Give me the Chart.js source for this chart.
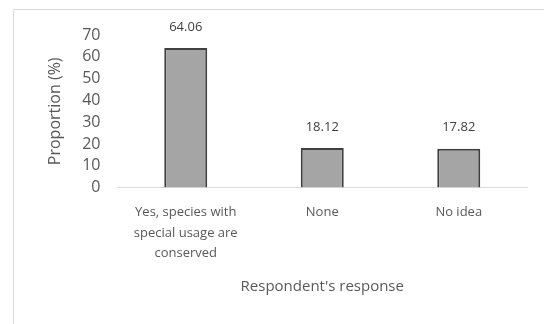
<!DOCTYPE html>
<html>
<head>
<meta charset="utf-8">
<script src="https://cdn.jsdelivr.net/npm/chart.js@4"></script>
<style>
  html, body { margin: 0; padding: 0; background: #fff; }
  #wrap { position: relative; width: 544px; height: 324px; }
  #frame { position: absolute; left: 13px; top: 9px; width: 600px; height: 400px;
           border-left: 1px solid #d9d9d9; border-top: 1px solid #d9d9d9; }
  canvas { position: absolute; left: 0; top: 0; }
</style>
</head>
<body>
<div id="wrap">
  <div id="frame"></div>
  <canvas id="chart" width="544" height="324"></canvas>
</div>
<script>
const categories = [
    ['Yes, species with', 'special usage are', 'conserved'],
    'None',
    'No idea'
]
const proportions = [64.06, 18.12, 17.82]
const yTicks = [0, 10, 20, 30, 40, 50, 60, 70]

const fontName = "'Open Sans', 'Liberation Sans', sans-serif"

// draws the value over each bar
const valueLabels = {
    id: 'valueLabels',
    afterDatasetsDraw(chart) {
        const ctx = chart.ctx
        const meta = chart.getDatasetMeta(0)
        ctx.save()
        ctx.fillStyle = '#404040'
        ctx.font = '13px ' + fontName
        ctx.textAlign = 'center'
        ctx.textBaseline = 'middle'
        meta.data.forEach((bar, i) => {
            ctx.fillText(proportions[i].toFixed(2), bar.x, bar.y - 21)
        })
        ctx.restore()
    }
}

const ctx = document.querySelector('#chart').getContext('2d')

new Chart(ctx, {
    type: 'bar',
    data: {
        labels: categories,
        datasets: [{
            data: proportions,
            backgroundColor: '#a5a5a5',
            borderColor: '#404040',
            borderWidth: 2,
            categoryPercentage: 1,
            barPercentage: 0.315
        }]
    },
    options: {
        responsive: false,
        animation: false,
        layout: { padding: { left: 46, right: 17, top: 35, bottom: 28 } },
        plugins: {
            legend: { display: false },
            tooltip: { enabled: false }
        },
        scales: {
            x: {
                grid: { display: false, drawTicks: false },
                border: { color: '#d9d9d9', width: 1 },
                ticks: {
                    color: '#595959',
                    font: { family: fontName, size: 13, lineHeight: 1.6 },
                    padding: 14,
                    maxRotation: 0
                },
                title: {
                    display: true,
                    text: "Respondent's response",
                    color: '#595959',
                    font: { family: fontName, size: 15 },
                    padding: { top: 0, bottom: 0 }
                }
            },
            y: {
                min: 0,
                max: 70,
                afterBuildTicks: axis => { axis.ticks = yTicks.map(v => ({ value: v })) },
                grid: { display: false, drawTicks: false },
                border: { display: false },
                ticks: {
                    color: '#595959',
                    font: { family: fontName, size: 16 },
                    padding: 17,
                    autoSkip: false
                },
                title: {
                    display: true,
                    text: 'Proportion (%)',
                    color: '#595959',
                    font: { family: fontName, size: 16 },
                    padding: { top: 0, bottom: 0 }
                }
            }
        }
    },
    plugins: [valueLabels]
})
</script>
</body>
</html>
